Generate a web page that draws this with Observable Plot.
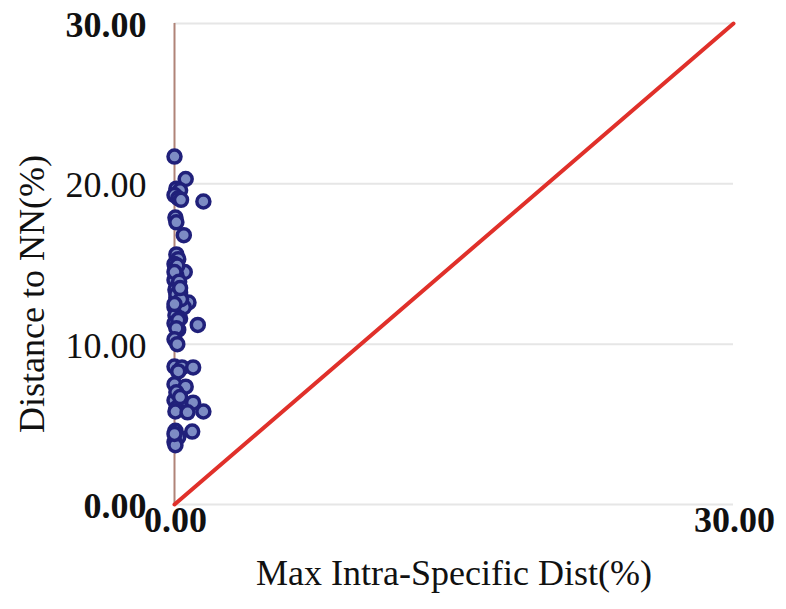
<!DOCTYPE html>
<html>
<head>
<meta charset="utf-8">
<script src="https://cdn.jsdelivr.net/npm/d3@7"></script>
<script src="https://cdn.jsdelivr.net/npm/@observablehq/plot@0.6"></script>
<style>
  html, body { margin: 0; padding: 0; background: #fff; }
  svg { display: block; }
</style>
</head>
<body>
<div id="chart"></div>
<script>
// Max intra-specific distance (%) for each species
const maxIntra = [
  0.0, 0.6, 0.1, 0.3, 0.0, 0.2, 0.35, 1.55, 0.05, 0.1, 0.5,
  0.1, 0.2, 0.0, 0.05, 0.55, 0.1, 0.0, 0.2, 0.05, 0.3, 0.1, 0.4, 0.75, 0.0, 0.2, 0.5, 0.05, 0.3, 0.0, 1.25, 0.2,
  0.15, 0.0, 0.25, 0.1, 0.35, 0.0, 0.2, 0.1, 0.3,
  0.0, 0.15, 0.0, 0.4, 1.0, 0.0, 0.6, 0.0, 0.3, 1.0, 0.1, 0.05, 0.7, 1.55, 0.05, 0.95, 0.2, 0.0, 0.05,
  0.2, 0.1, 0.3, 0.0
];
// Distance to nearest neighbour (%)
const distNN = [
  21.7, 20.3, 19.7, 19.6, 19.3, 19.1, 19.0, 18.9, 17.9, 17.6, 16.8,
  15.6, 15.3, 15.0, 14.7, 14.5, 14.3, 14.0, 13.7, 13.4, 13.2, 12.9, 12.6, 12.6, 12.3, 12.1, 12.3, 11.8, 11.6, 11.3, 11.2, 10.9,
  14.9, 14.5, 13.9, 13.1, 12.8, 12.5, 11.5, 11.0, 13.5,
  10.3, 10.0, 8.6, 8.55, 8.55, 7.5, 7.35, 6.5, 6.2, 6.35, 6.0, 5.8, 5.75, 5.8, 4.6, 4.55, 4.2, 3.9, 3.7,
  8.3, 7.0, 6.7, 4.4
];
const diagonal = [0, 30];
const gridValues = [10, 20, 30];
const yTicksBold = [0, 30];
const yTicksNormal = [10, 20];
const xTicks = [0, 30];
const xLabel = "Max Intra-Specific Dist(%)";
const yLabel = "Distance to NN(%)";

const points = maxIntra.map((x, i) => ({x, y: distNN[i]}));
const fmt = d => d.toFixed(2);
const font = "'Liberation Serif', 'Times New Roman', serif";

const chart = Plot.plot({
  width: 786,
  height: 609,
  marginLeft: 174,
  marginRight: 53,
  marginTop: 23,
  marginBottom: 105,
  x: {domain: [0, 30], axis: null},
  y: {domain: [0, 30], axis: null},
  style: {fontFamily: font, background: "#fff"},
  marks: [
    Plot.ruleY(gridValues, {stroke: "#e6e6e6", strokeWidth: 2}),
    Plot.ruleY([0], {stroke: "#e6e6e6", strokeWidth: 2}),
    Plot.ruleX([0], {stroke: "#b08478", strokeWidth: 2}),
    Plot.line(diagonal, {x: d => d, y: d => d, stroke: "#e0302a", strokeWidth: 4}),
    Plot.dot(points, {x: "x", y: "y", r: 6.5, fill: "#7d8cc4", stroke: "#20207a", strokeWidth: 3.5}),
    Plot.text(yTicksBold, {y: d => d, text: fmt, frameAnchor: "left", textAnchor: "end", dx: -28, dy: 2, fontSize: 36, fontWeight: "bold", fill: "#111"}),
    Plot.text(yTicksNormal, {y: d => d, text: fmt, frameAnchor: "left", textAnchor: "end", dx: -28, dy: 2, fontSize: 36, fill: "#111"}),
    Plot.text(xTicks, {x: d => d, text: fmt, frameAnchor: "bottom", dy: 27, dx: 1, fontSize: 36, fontWeight: "bold", fill: "#111"}),
    Plot.text([xLabel], {text: d => d, frameAnchor: "bottom", dy: 80, fontSize: 36, fill: "#111"}),
    Plot.text([yLabel], {text: d => d, frameAnchor: "left", textAnchor: "middle", rotate: -90, dx: -142, dy: 30, fontSize: 36, fill: "#111"})
  ]
});
document.getElementById("chart").appendChild(chart);
</script>
</body>
</html>
